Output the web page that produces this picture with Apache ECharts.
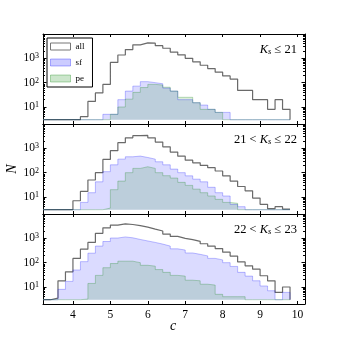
<!DOCTYPE html>
<html>
<head>
<meta charset="utf-8">
<script src="https://cdn.jsdelivr.net/npm/echarts@6.0.0/dist/echarts.min.js"></script>
<style>
html, body { margin: 0; padding: 0; background: #fff; }
#chart { width: 339px; height: 339px; }
</style>
</head>
<body>
<div id="chart"></div>
<script>
// bin edges of the c histograms (width 0.2)
const binEdges = [3.2, 3.4, 3.6, 3.8, 4.0, 4.2, 4.4, 4.6, 4.8, 5.0, 5.2, 5.4, 5.6, 5.8, 6.0, 6.2, 6.4,
  6.6, 6.8, 7.0, 7.2, 7.4, 7.6, 7.8, 8.0, 8.2, 8.4, 8.6, 8.8, 9.0, 9.2, 9.4, 9.6, 9.8];

// Ks <= 21
const allTop = [0, 0, 0, 0, 0, 4, 17, 38, 85, 680, 1370, 2300, 3600, 4300, 4200, 3300, 2600,
  1800, 1400, 1000, 720, 520, 380, 270, 190, 140, 48, 48, 20, 20, 8, 20, 8];
const sfTop = [0, 0, 0, 0, 0, 0, 0, 0, 5, 5, 20, 45, 72, 110, 100, 90, 60,
  45, 20, 20, 15, 12, 8, 6, 6, 0, 0, 0, 0, 0, 0, 0, 0];
const peTop = [0, 0, 0, 0, 0, 0, 0, 0, 0, 5, 10, 21, 40, 63, 85, 80, 65,
  45, 25, 25, 15, 8, 8, 6, 0, 0, 0, 0, 0, 0, 0, 0, 0];

// 21 < Ks <= 22
const allMid = [0, 0, 0, 0, 7, 17, 50, 100, 350, 800, 1700, 2700, 3300, 3400, 2700, 1800, 1150,
  700, 475, 326, 254, 200, 160, 117, 74, 45, 27, 18, 9, 5, 3.3, 4, 3.2];
const sfMid = [0, 0, 0, 0, 0, 6, 15, 42, 110, 210, 360, 450, 480, 420, 360, 280, 210,
  140, 100, 74, 54, 42, 25, 15, 11, 5, 4, 0, 0, 0, 0, 0, 0];
const peMid = [0, 0, 0, 0, 0, 0, 0, 0, 3.5, 20, 45, 100, 150, 175, 150, 100, 75,
  60, 40, 30, 21, 15, 11, 8, 6, 5.5, 0, 0, 0, 0, 0, 0, 0];

// 22 < Ks <= 23
const allBot = [0, 3.5, 18, 42, 150, 360, 680, 1600, 2700, 3500, 3900, 3700, 3300, 2900, 2400, 2000, 1500,
  1200, 1000, 880, 750, 600, 475, 380, 270, 186, 107, 74, 54, 29, 18, 6, 10];
const sfBot = [0, 0, 8, 17, 50, 110, 245, 480, 740, 1030, 1140, 1050, 900, 780, 680, 580, 480,
  370, 330, 250, 220, 190, 150, 130, 100, 70, 40, 28, 18, 11, 7, 0, 6];
const peBot = [0, 0, 0, 0, 0, 3.2, 14, 30, 62, 92, 115, 115, 100, 78, 72, 52, 40,
  30, 28, 19, 18, 13, 12, 5, 4, 4, 4, 0, 0, 0, 0, 0, 0];

const panelLabels = [
  '{i|K}{s|s}{r| ≤ 21}',
  '{r|21 < }{i|K}{s|s}{r| ≤ 22}',
  '{r|22 < }{i|K}{s|s}{r| ≤ 23}'
];
const xTicks = [4, 5, 6, 7, 8, 9, 10];
const yMajor = [10, 100, 1000];
const yMinor = [3, 4, 5, 6, 7, 8, 9, 20, 30, 40, 50, 60, 70, 80, 90,
  200, 300, 400, 500, 600, 700, 800, 900, 2000, 3000, 4000, 5000, 6000, 7000, 8000, 9000];

const BASE = 3;   // floor the filled histograms sit on
const SERIF = '"Liberation Serif", "DejaVu Serif", serif';
const tops = [34, 124, 214];
const panels = [
  { all: allTop, sf: sfTop, pe: peTop },
  { all: allMid, sf: sfMid, pe: peMid },
  { all: allBot, sf: sfBot, pe: peBot }
];

function stepData(vals) {
  const pts = binEdges.map((x, i) => [x, Math.max(vals[Math.min(i, vals.length - 1)], BASE)]);
  pts.push([binEdges[binEdges.length - 1], BASE]);
  return pts;
}

const black = { color: '#000', width: 1 };
const grid = tops.map(t => ({ left: 43, right: 34, top: t, height: 90 }));

const xAxis = [];
const yAxis = [];
tops.forEach((t, g) => {
  ['bottom', 'top'].forEach(pos => {
    xAxis.push({
      type: 'value', gridIndex: g, position: pos, min: 3.2, max: 10.2,
      axisLine: { onZero: false, lineStyle: black },
      axisTick: { inside: true, length: 3, customValues: xTicks, lineStyle: black },
      axisLabel: {
        show: g === 2 && pos === 'bottom', customValues: xTicks, margin: 5,
        color: '#000', fontFamily: SERIF, fontSize: 11.5
      },
      splitLine: { show: false }
    });
  });
  ['left', 'right'].forEach(pos => {
    yAxis.push({
      type: 'log', logBase: 10, gridIndex: g, position: pos, min: 2, max: 10000,
      axisLine: { show: true, lineStyle: black },
      axisTick: { inside: true, length: 3.5, customValues: yMajor, lineStyle: black },
      axisLabel: {
        show: pos === 'left', customValues: yMajor, margin: 4,
        formatter: v => '{b|10}{e|' + Math.round(Math.log10(v)) + '}',
        rich: {
          b: { fontFamily: SERIF, fontSize: 11.5, color: '#000' },
          e: { fontFamily: SERIF, fontSize: 8, color: '#000', verticalAlign: 'top', lineHeight: 8 }
        }
      },
      splitLine: { show: false }
    });
    yAxis.push({
      type: 'log', logBase: 10, gridIndex: g, position: pos, min: 2, max: 10000,
      axisLine: { show: false },
      axisTick: { inside: true, length: 2, customValues: yMinor, lineStyle: black },
      axisLabel: { show: false },
      splitLine: { show: false }
    });
  });
});

const series = [];
panels.forEach((p, g) => {
  const common = {
    type: 'line', xAxisIndex: 2 * g, yAxisIndex: 4 * g, step: 'end',
    showSymbol: false, symbol: 'none', silent: true
  };
  series.push(Object.assign({}, common, {
    name: 'all', data: stepData(p.all),
    lineStyle: { color: '#6a6a6a', width: 1.2 }
  }));
  series.push(Object.assign({}, common, {
    name: 'sf', data: stepData(p.sf),
    lineStyle: { color: 'rgba(0,0,255,0.25)', width: 1 },
    areaStyle: { color: 'rgba(0,0,255,0.2)', origin: BASE }
  }));
  series.push(Object.assign({}, common, {
    name: 'pe', data: stepData(p.pe),
    lineStyle: { color: 'rgba(0,128,0,0.25)', width: 1 },
    areaStyle: { color: 'rgba(0,128,0,0.2)', origin: BASE }
  }));
});

const labelRich = {
  i: { fontFamily: SERIF, fontStyle: 'italic', fontSize: 12.5, color: '#000', lineHeight: 14 },
  s: { fontFamily: SERIF, fontStyle: 'italic', fontSize: 8.5, color: '#000', verticalAlign: 'bottom', lineHeight: 10 },
  r: { fontFamily: SERIF, fontSize: 12.5, color: '#000', lineHeight: 14 }
};

const graphic = tops.map(t => ({ type: 'text', right: 42, top: t + 9 }))
  .map((el, g) => Object.assign(el, { style: { text: panelLabels[g], rich: labelRich } }));
graphic.push({
  type: 'text', x: 12, y: 169, rotation: Math.PI / 2,
  style: { text: 'N', font: 'italic 14px ' + SERIF, fill: '#000', textAlign: 'center', textVerticalAlign: 'middle' }
});
graphic.push({
  type: 'text', x: 173, y: 326,
  style: { text: 'c', font: 'italic 14px ' + SERIF, fill: '#000', textAlign: 'center', textVerticalAlign: 'middle' }
});

const myChart = echarts.init(document.getElementById('chart'));
myChart.setOption({
  backgroundColor: '#fff',
  animation: false,
  grid: grid,
  xAxis: xAxis,
  yAxis: yAxis,
  legend: {
    orient: 'vertical', left: 47, top: 38,
    itemWidth: 20, itemHeight: 7, itemGap: 7,
    padding: [4, 8, 4, 3],
    borderColor: '#000', borderWidth: 1,
    textStyle: { fontFamily: SERIF, fontSize: 9, color: '#000' },
    selectedMode: false,
    data: [
      { name: 'all', icon: 'rect', itemStyle: { color: '#fff', borderColor: '#777', borderWidth: 1 } },
      { name: 'sf', icon: 'rect', itemStyle: { color: 'rgba(0,0,255,0.2)', borderColor: 'rgba(0,0,255,0.3)', borderWidth: 1 } },
      { name: 'pe', icon: 'rect', itemStyle: { color: 'rgba(0,128,0,0.2)', borderColor: 'rgba(0,128,0,0.3)', borderWidth: 1 } }
    ]
  },
  graphic: graphic,
  series: series
});
</script>
</body>
</html>
